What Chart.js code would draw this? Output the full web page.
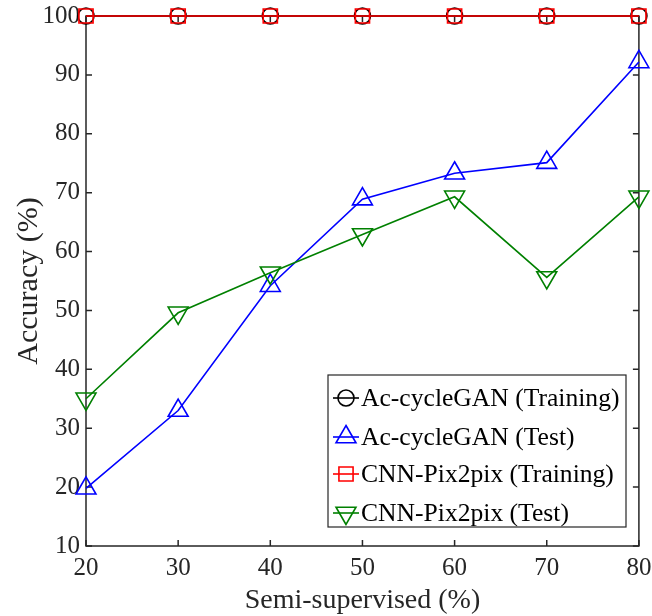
<!DOCTYPE html>
<html>
<head>
<meta charset="utf-8">
<script src="https://cdn.jsdelivr.net/npm/chart.js@4.4.1/dist/chart.umd.min.js"></script>
<style>
  html, body { margin: 0; padding: 0; background: #fff; }
  #wrap { width: 652px; height: 616px; }
</style>
</head>
<body>
<div id="wrap"><canvas id="chart"></canvas></div>
<script>
// data
const semiSupervised = [20, 30, 40, 50, 60, 70, 80];
const acCycleTraining = [100, 100, 100, 100, 100, 100, 100];
const acCycleTest = [19.8, 33.0, 54.2, 68.9, 73.3, 75.1, 92.2];
const pixTraining = [100, 100, 100, 100, 100, 100, 100];
const pixTest = [35.0, 49.6, 56.4, 62.9, 69.3, 55.6, 69.3];
const xTicks = [20, 30, 40, 50, 60, 70, 80];
const yTicks = [10, 20, 30, 40, 50, 60, 70, 80, 90, 100];

const AXIS = "#262626";
const FONT = "'Liberation Serif', 'Times New Roman', serif";

const pts = (ys) => semiSupervised.map((x, i) => ({ x, y: ys[i] }));

function drawMarker(ctx, style, x, y, r, rot) {
  ctx.beginPath();
  if (style === "circle") {
    ctx.arc(x, y, r, 0, Math.PI * 2);
  } else if (style === "rect") {
    const s = Math.SQRT1_2 * r;
    ctx.rect(x - s, y - s, 2 * s, 2 * s);
  } else {
    // triangle, rot in degrees
    let a = (rot || 0) * Math.PI / 180;
    for (let k = 0; k < 3; k++) {
      const px = x + Math.sin(a) * r, py = y - Math.cos(a) * r;
      k ? ctx.lineTo(px, py) : ctx.moveTo(px, py);
      a += 2 * Math.PI / 3;
    }
    ctx.closePath();
  }
  ctx.stroke();
}

// box + inward ticks, MATLAB style
const framePlugin = {
  id: "frame",
  beforeDatasetsDraw(chart) {
    const { ctx, chartArea: a, scales } = chart;
    const len = 6;
    ctx.save();
    ctx.strokeStyle = AXIS;
    ctx.lineWidth = 1.5;
    ctx.strokeRect(a.left, a.top, a.right - a.left, a.bottom - a.top);
    ctx.beginPath();
    xTicks.forEach(v => {
      const px = scales.x.getPixelForValue(v);
      ctx.moveTo(px, a.bottom); ctx.lineTo(px, a.bottom - len);
      ctx.moveTo(px, a.top); ctx.lineTo(px, a.top + len);
    });
    yTicks.forEach(v => {
      const py = scales.y.getPixelForValue(v);
      ctx.moveTo(a.left, py); ctx.lineTo(a.left + len, py);
      ctx.moveTo(a.right, py); ctx.lineTo(a.right - len, py);
    });
    ctx.stroke();
    ctx.restore();
  }
};

const legendOrder = [0, 1, 2, 3];

const legendPlugin = {
  id: "boxLegend",
  afterDraw(chart) {
    const { ctx } = chart;
    const box = { x: 328, y: 375, w: 298, h: 152 };
    const rows = [398, 437, 474, 513];
    ctx.save();
    ctx.fillStyle = "#fff";
    ctx.fillRect(box.x, box.y, box.w, box.h);
    ctx.strokeStyle = AXIS;
    ctx.lineWidth = 1.2;
    ctx.strokeRect(box.x, box.y, box.w, box.h);
    ctx.font = "25.6px " + FONT;
    ctx.textBaseline = "middle";
    ctx.textAlign = "left";
    legendOrder.forEach((di, i) => {
      const ds = chart.data.datasets[di];
      const y = rows[i];
      ctx.strokeStyle = ds.borderColor;
      ctx.lineWidth = 1.6;
      ctx.beginPath();
      ctx.moveTo(333, y); ctx.lineTo(359, y);
      ctx.stroke();
      drawMarker(ctx, ds.pointStyle, 346, y, ds.pointRadius, ds.pointRotation);
      ctx.fillStyle = "#000";
      ctx.fillText(ds.label, 361, y + 1);
    });
    ctx.restore();
  }
};

function series(label, data, color, style, radius, rotation, order) {
  return {
    label, data: pts(data),
    borderColor: color, backgroundColor: "rgba(0,0,0,0)",
    borderWidth: 1.6,
    pointStyle: style, pointRadius: radius, pointRotation: rotation,
    pointBorderWidth: 1.6, pointBorderColor: color,
    pointBackgroundColor: "rgba(0,0,0,0)",
    pointHoverRadius: radius,
    tension: 0, clip: false, order
  };
}

const tickFont = { family: FONT, size: 25, lineHeight: 1 };

new Chart(document.getElementById("chart"), {
  type: "line",
  data: {
    datasets: [
      series("Ac-cycleGAN (Training)", acCycleTraining, "#000000", "circle", 8, 0, 4),
      series("Ac-cycleGAN (Test)", acCycleTest, "#0000ff", "triangle", 11.5, 0, 3),
      series("CNN-Pix2pix (Training)", pixTraining, "#ff0000", "rect", 10, 0, 2),
      series("CNN-Pix2pix (Test)", pixTest, "#008000", "triangle", 11.5, 180, 1)
    ]
  },
  options: {
    responsive: true,
    maintainAspectRatio: false,
    animation: false,
    layout: { padding: { top: 16, right: 13, left: 0, bottom: 0 } },
    plugins: {
      legend: { display: false },
      tooltip: { enabled: false }
    },
    scales: {
      x: {
        type: "linear", min: 20, max: 80,
        afterBuildTicks: s => { s.ticks = xTicks.map(v => ({ value: v })); },
        afterFit: s => { s.height = 70; s.paddingLeft = 0; s.paddingRight = 0; },
        grid: { display: false, drawTicks: false },
        border: { display: false },
        ticks: { color: AXIS, font: tickFont, padding: 10, maxRotation: 0 },
        title: { display: true, text: "Semi-supervised (%)", color: AXIS,
                 font: { family: FONT, size: 28, lineHeight: 1 }, padding: { top: 0, bottom: 1 } }
      },
      y: {
        min: 10, max: 100,
        afterBuildTicks: s => { s.ticks = yTicks.map(v => ({ value: v })); },
        afterFit: s => { s.width = 86; s.paddingTop = 0; s.paddingBottom = 0; },
        grid: { display: false, drawTicks: false },
        border: { display: false },
        ticks: { color: AXIS, font: tickFont, padding: 6 },
        title: { display: true, text: "Accuracy (%)", color: AXIS,
                 font: { family: FONT, size: 30, lineHeight: 1 }, padding: { top: 14, bottom: 0 } }
      }
    }
  },
  plugins: [framePlugin, legendPlugin]
});
</script>
</body>
</html>
